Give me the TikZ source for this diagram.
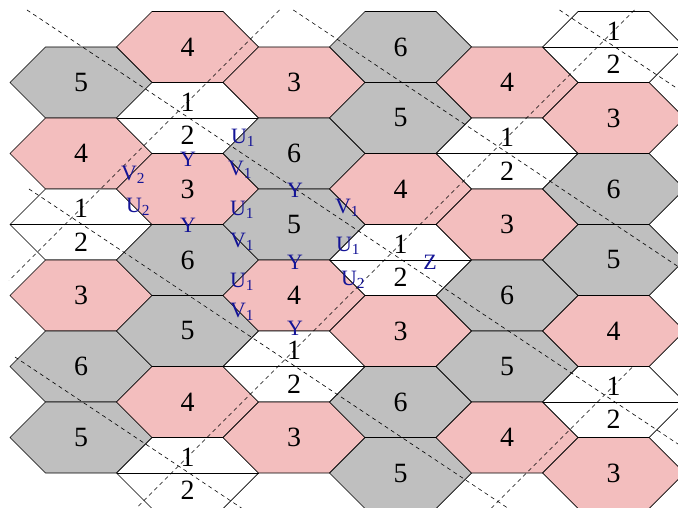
\documentclass[tikz,border=0pt]{standalone}
\usepackage{fontspec}
\setmainfont{Liberation Serif}
\definecolor{hpink}{RGB}{243,190,190}
\definecolor{hgray}{RGB}{191,191,191}
\definecolor{lblue}{RGB}{20,20,150}
\newcommand\hexcell[5]{%
  \filldraw[hexline,fill=#4] (#2-71,#3) -- (#2-35.5,#3-35.5) -- (#2+35.5,#3-35.5) -- (#2+71,#3) -- (#2+35.5,#3+35.5) -- (#2-35.5,#3+35.5) -- cycle;
  \node[numlbl] (#1) at (#2,#3) {#5};}
\newcommand\splitcell[3]{%
  \filldraw[hexline,fill=white] (#2-71,#3) -- (#2-35.5,#3-35.5) -- (#2+35.5,#3-35.5) -- (#2+71,#3) -- (#2+35.5,#3+35.5) -- (#2-35.5,#3+35.5) -- cycle;
  \draw[hexline] (#2-71,#3) -- (#2+71,#3);
  \node[numlbl] (#1a) at (#2,#3-16) {1};
  \node[numlbl] (#1b) at (#2,#3+17.5) {2};}
\begin{document}
\begin{tikzpicture}[x=1bp,y=-1bp,
  hexline/.style={draw=black,line width=0.7bp},
  numlbl/.style={font=\fontsize{28}{32}\selectfont,inner sep=0pt},
  blbl/.style={text=lblue,font=\fontsize{22}{25}\selectfont,inner sep=0pt},
  dashline/.style={draw=black,line width=0.6bp,dash pattern=on 4bp off 3.5bp}]
\useasboundingbox (0,0) rectangle (678,508);
\clip (0,0) rectangle (678,508);
% column 0
\hexcell{c0r0}{81}{82.5}{hgray}{5}
\hexcell{c0r1}{81}{153.5}{hpink}{4}
\splitcell{c0r2}{81}{224.5}
\hexcell{c0r3}{81}{295.5}{hpink}{3}
\hexcell{c0r4}{81}{366.5}{hgray}{6}
\hexcell{c0r5}{81}{437.5}{hgray}{5}
% column 1
\hexcell{c1r0}{187.5}{47}{hpink}{4}
\splitcell{c1r1}{187.5}{118}
\hexcell{c1r2}{187.5}{189}{hpink}{3}
\hexcell{c1r3}{187.5}{260}{hgray}{6}
\hexcell{c1r4}{187.5}{331}{hgray}{5}
\hexcell{c1r5}{187.5}{402}{hpink}{4}
\splitcell{c1r6}{187.5}{473}
% column 2
\hexcell{c2r0}{294}{82.5}{hpink}{3}
\hexcell{c2r1}{294}{153.5}{hgray}{6}
\hexcell{c2r2}{294}{224.5}{hgray}{5}
\hexcell{c2r3}{294}{295.5}{hpink}{4}
\splitcell{c2r4}{294}{366.5}
\hexcell{c2r5}{294}{437.5}{hpink}{3}
% column 3
\hexcell{c3r0}{400.5}{47}{hgray}{6}
\hexcell{c3r1}{400.5}{118}{hgray}{5}
\hexcell{c3r2}{400.5}{189}{hpink}{4}
\splitcell{c3r3}{400.5}{260}
\hexcell{c3r4}{400.5}{331}{hpink}{3}
\hexcell{c3r5}{400.5}{402}{hgray}{6}
\hexcell{c3r6}{400.5}{473}{hgray}{5}
% column 4
\hexcell{c4r0}{507}{82.5}{hpink}{4}
\splitcell{c4r1}{507}{153.5}
\hexcell{c4r2}{507}{224.5}{hpink}{3}
\hexcell{c4r3}{507}{295.5}{hgray}{6}
\hexcell{c4r4}{507}{366.5}{hgray}{5}
\hexcell{c4r5}{507}{437.5}{hpink}{4}
% column 5
\splitcell{c5r0}{613.5}{47}
\hexcell{c5r1}{613.5}{118}{hpink}{3}
\hexcell{c5r2}{613.5}{189}{hgray}{6}
\hexcell{c5r3}{613.5}{260}{hgray}{5}
\hexcell{c5r4}{613.5}{331}{hpink}{4}
\splitcell{c5r5}{613.5}{402}
\hexcell{c5r6}{613.5}{473}{hpink}{3}
% dashed lattice lines
\coordinate (L1a) at (27,10);    \coordinate (L1b) at (700,458.7);
\coordinate (L2a) at (29,189);   \coordinate (L2b) at (520,516.2);
\coordinate (L3a) at (15,357);   \coordinate (L3b) at (250,513.7);
\coordinate (L4a) at (293.3,10); \coordinate (L4b) at (700,281.2);
\coordinate (L5a) at (559.5,10); \coordinate (L5b) at (700,103.7);
\coordinate (M1a) at (279.5,10); \coordinate (M1b) at (9,280.5);
\coordinate (M2a) at (634.5,10); \coordinate (M2b) at (124.5,520);
\coordinate (M3a) at (632,367.5);\coordinate (M3b) at (479.5,520);
\draw[dashline] (L1a) -- (L1b);
\draw[dashline] (L2a) -- (L2b);
\draw[dashline] (L3a) -- (L3b);
\draw[dashline] (L4a) -- (L4b);
\draw[dashline] (L5a) -- (L5b);
\draw[dashline] (M1a) -- (M1b);
\draw[dashline] (M2a) -- (M2b);
\draw[dashline] (M3a) -- (M3b);
% blue labels
\node[blbl] (u1a) at (243,138) {U\textsubscript{1}};
\node[blbl] (v1a) at (240,170) {V\textsubscript{1}};
\node[blbl] (v2a) at (133,175) {V\textsubscript{2}};
\node[blbl] (u2a) at (138,207) {U\textsubscript{2}};
\node[blbl] (u1b) at (242,210) {U\textsubscript{1}};
\node[blbl] (v1b) at (242,242) {V\textsubscript{1}};
\node[blbl] (u1c) at (242,282) {U\textsubscript{1}};
\node[blbl] (v1c) at (242,312) {V\textsubscript{1}};
\node[blbl] (ya) at (188,159) {Y};
\node[blbl] (yb) at (188,225) {Y};
\node[blbl] (yc) at (295,190) {Y};
\node[blbl] (yd) at (295,262) {Y};
\node[blbl] (ye) at (295,328) {Y};
\node[blbl] (v1d) at (347,208) {V\textsubscript{1}};
\node[blbl] (u1d) at (348,246) {U\textsubscript{1}};
\node[blbl] (u2b) at (353,280) {U\textsubscript{2}};
\node[blbl] (zz) at (430,262) {Z};
\end{tikzpicture}
\end{document}
